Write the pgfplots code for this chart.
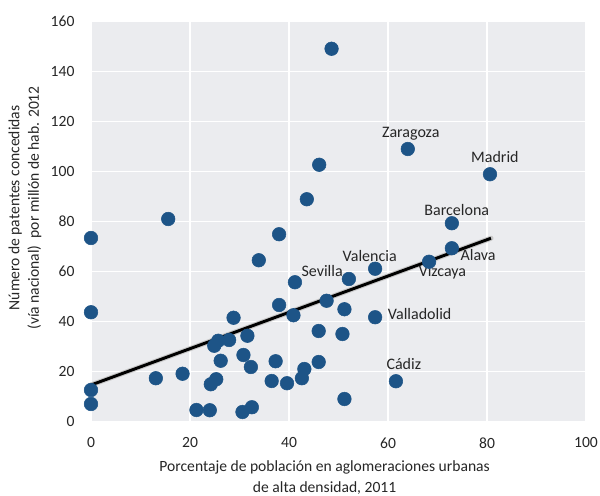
\documentclass[border=0pt]{standalone}
\usepackage{fontspec}
\setmainfont{Carlito}
\usepackage{pgfplots}
\pgfplotsset{compat=1.18}
\definecolor{dotblue}{RGB}{29,84,135}
\definecolor{bggray}{RGB}{235,236,239}
\begin{document}
\begin{tikzpicture}
\path[use as bounding box] (-68.25pt,-55.875pt) rectangle (381.75pt,316.125pt);
\begin{axis}[
  scale only axis,
  width=371.25pt, height=300pt,
  xmin=0, xmax=100, ymin=0, ymax=160,
  xtick={0,20,...,100}, ytick={0,20,...,160},
  axis background/.style={fill=bggray},
  axis line style={draw=none},
  major tick style={draw=none},
  grid=major,
  major grid style={white, line width=1.1pt},
  clip=false,
  /pgf/number format/assume math mode=true,
  tick label style={font=\fontsize{11.7}{14}\selectfont, text=black!85},
  xticklabel style={anchor=center, inner sep=0pt, yshift=-16.1pt},
  yticklabel style={anchor=east, inner sep=0pt, xshift=-12.2pt},
]
\addplot[only marks, mark=*, mark size=5.1pt, mark options={fill=dotblue, draw=dotblue}] coordinates {
(0,73.4) (0,43.7) (0,12.6) (0,7) (13.1,17.3) (15.6,81) (18.5,19.1) (21.3,4.6)
(24.0,4.5) (24.2,14.9) (25.3,16.9) (24.9,30.3) (25.7,32.3) (26.2,24.3) (27.9,32.6)
(28.8,41.5) (30.6,3.8) (30.8,26.6) (31.6,34.3) (32.3,21.8) (32.5,5.7) (33.9,64.5)
(36.5,16.2) (37.3,24.1) (38.0,74.9) (38.0,46.6) (39.6,15.3) (40.9,42.5) (41.2,55.7)
(42.6,17.3) (43.1,21) (43.6,88.9) (46.0,36.2) (46.0,23.8) (46.1,102.7) (47.6,48.3)
(48.6,149.1) (50.8,35) (51.2,44.9) (51.2,9) (52.1,57) (57.4,61.1) (57.4,41.7)
(61.6,16.1) (64.0,109) (68.3,63.9) (72.9,69.3) (72.9,79.3) (80.6,98.9)
};
\addplot[no marks, line width=3.8pt, black!22, line cap=round] coordinates {(0,14.6) (80.8,73.3)};
\addplot[no marks, line width=2.2pt, black] coordinates {(0,14.6) (80.8,73.3)};
\begin{scope}[every node/.style={font=\fontsize{12}{14}\selectfont, text=black!85, inner sep=0pt}]
\node at (axis cs:64.6,115) {Zaragoza};
\node at (axis cs:81.6,105.9) {Madrid};
\node at (axis cs:73.9,84.6) {Barcelona};
\node at (axis cs:56.3,66.2) {Valencia};
\node at (axis cs:46.7,60.2) {Sevilla};
\node at (axis cs:78.2,66.6) {Alava};
\node at (axis cs:71.0,59.5) {Vizcaya};
\node at (axis cs:66.4,43) {Valladolid};
\node at (axis cs:63.2,23) {Cádiz};
\end{scope}
\node[font=\fontsize{11.7}{15.75}\selectfont, text=black!85, align=center, inner sep=0pt]
  at (rel axis cs:0.472,-0.14) {Porcentaje de población en aglomeraciones urbanas\\de alta densidad, 2011};
\node[font=\fontsize{11.7}{14.5}\selectfont, text=black!85, align=center, inner sep=0pt, rotate=90]
  at ([xshift=-49.5pt]rel axis cs:0,0.534) {Número de patentes concedidas\\(vía nacional)\ \ por millón de hab. 2012};
\end{axis}
\end{tikzpicture}
\end{document}
